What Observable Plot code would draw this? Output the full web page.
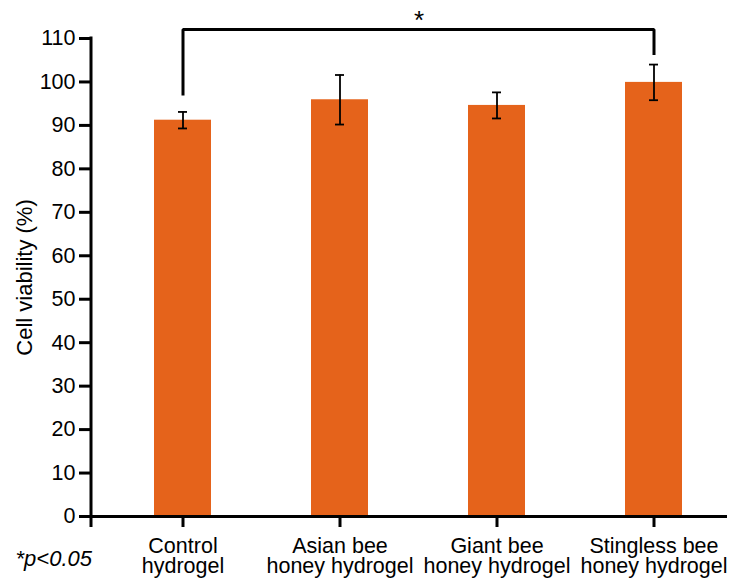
<!DOCTYPE html>
<html>
<head>
<meta charset="utf-8">
<script src="https://cdn.jsdelivr.net/npm/d3@7"></script>
<script src="https://cdn.jsdelivr.net/npm/@observablehq/plot@0.6"></script>
<style>
  body { margin: 0; background: white; }
</style>
</head>
<body>
<div id="chart"></div>
<script>
const categories = ["Control hydrogel", "Asian bee honey hydrogel", "Giant bee honey hydrogel", "Stingless bee honey hydrogel"];
const tickLabels = ["Control\nhydrogel", "Asian bee\nhoney hydrogel", "Giant bee\nhoney hydrogel", "Stingless bee\nhoney hydrogel"];
const means = [91.2, 95.9, 94.6, 99.9];
const errors = [1.9, 5.7, 3.0, 4.1];
const yTicks = [0, 10, 20, 30, 40, 50, 60, 70, 80, 90, 100, 110];
const yLabel = "Cell viability (%)";
const bracketFrom = "Control hydrogel";
const bracketTo = "Stingless bee honey hydrogel";
const bracketTop = 112.1;
const bracketEnds = [96.9, 106.2];
const sigMark = "*";
const sigY = 114.1;
const note = "*p<0.05";

const barColor = "#E5631B";

const data = categories.map((c, i) => ({cat: c, mean: means[i], err: errors[i]}));
const labelMap = new Map(categories.map((c, i) => [c, tickLabels[i]]));
const bracket = [
  {cat: bracketFrom, v: bracketEnds[0]},
  {cat: bracketFrom, v: bracketTop},
  {cat: bracketTo, v: bracketTop},
  {cat: bracketTo, v: bracketEnds[1]}
];

// y axis line drawn through the y scale
function yAxisLine(index, scales, values, dimensions) {
  const x = dimensions.marginLeft;
  return d3.create("svg:line")
    .attr("x1", x).attr("x2", x)
    .attr("y1", scales.y(yTicks[0]) + 11)
    .attr("y2", scales.y(yTicks[yTicks.length - 1]) - 1.5)
    .attr("stroke", "black")
    .attr("stroke-width", 3)
    .node();
}

const chart = Plot.plot({
  width: 744,
  height: 582,
  marginLeft: 91,
  marginRight: 17,
  marginTop: 38,
  marginBottom: 66,
  style: {fontFamily: "'Liberation Sans', Arial, Helvetica, sans-serif", color: "black", background: "white", overflow: "visible"},
  x: {domain: categories, range: [92, 744], paddingInner: 0.635, paddingOuter: 0.381},
  y: {domain: [0, 110]},
  marks: [
    Plot.barY(data, {x: "cat", y: "mean", fill: barColor}),
    Plot.ruleX(data, {x: "cat", y1: d => d.mean - d.err, y2: d => d.mean + d.err, stroke: "black", strokeWidth: 1.8}),
    Plot.tickY(data, {x: "cat", y: d => d.mean - d.err, insetLeft: 24, insetRight: 24, stroke: "black", strokeWidth: 1.8}),
    Plot.tickY(data, {x: "cat", y: d => d.mean + d.err, insetLeft: 24, insetRight: 24, stroke: "black", strokeWidth: 1.8}),
    Plot.ruleY([0], {stroke: "black", strokeWidth: 3}),
    yAxisLine,
    Plot.axisY({ticks: yTicks, tickSize: 12, tickPadding: 4, fontSize: 21.5, strokeWidth: 3, label: null}),
    Plot.axisX({tickSize: 11, tickPadding: 12, fontSize: 21.5, strokeWidth: 3, lineHeight: 0.9, tickFormat: d => labelMap.get(d), label: null}),
    Plot.text([yLabel], {frameAnchor: "left", textAnchor: "middle", rotate: -90, dx: -67, fontSize: 22}),
    Plot.line(bracket, {x: "cat", y: "v", stroke: "black", strokeWidth: 3, strokeLinejoin: "miter", strokeLinecap: "butt"}),
    Plot.text([{cat: categories[1], v: sigY, t: sigMark}], {x: "cat", y: "v", text: "t", dx: 79, fontSize: 26}),
    Plot.text([note], {frameAnchor: "bottom-left", dx: -76, dy: 49, textAnchor: "start", fontStyle: "italic", fontSize: 22})
  ]
});
document.getElementById("chart").appendChild(chart);
</script>
</body>
</html>
